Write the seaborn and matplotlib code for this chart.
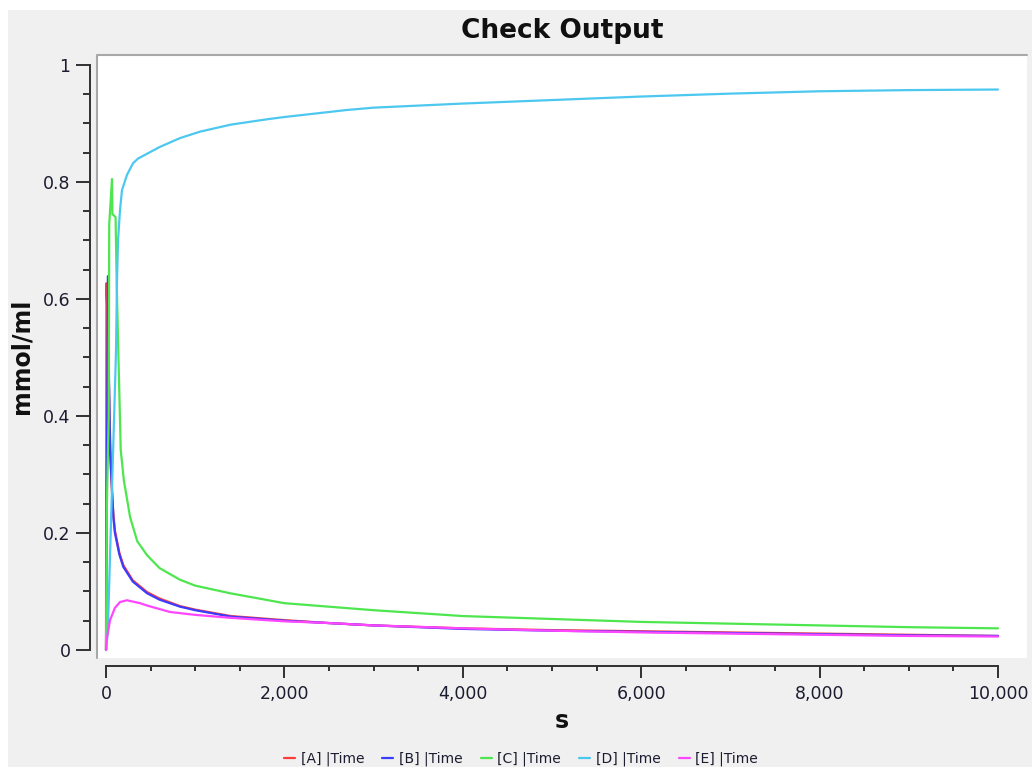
import matplotlib
matplotlib.use("Agg")
import matplotlib.pyplot as plt
from matplotlib.lines import Line2D
from matplotlib.patches import Rectangle
from matplotlib.ticker import MultipleLocator, FuncFormatter
import numpy as np
import pandas as pd
import seaborn as sns

# Species concentrations (mmol/ml) over simulated time (s)
species = ["[A] |Time", "[B] |Time", "[C] |Time", "[D] |Time", "[E] |Time"]
colors = ["#ff3c3c", "#3c3cff", "#4ee64e", "#4cc8f0", "#ff46ff"]

a_time = [0, 5, 20, 40, 55, 70, 85, 100, 150, 194, 300, 460, 600, 830, 1000, 1400,
          2000, 2500, 3000, 4000, 5000, 6000, 7000, 8000, 9000, 10000]
a_conc = [0.0, 0.627, 0.55, 0.40, 0.31, 0.26, 0.228, 0.204, 0.166, 0.145, 0.119, 0.099,
          0.088, 0.075, 0.069, 0.058, 0.051, 0.046, 0.042, 0.037, 0.034, 0.032, 0.030,
          0.028, 0.026, 0.024]

b_time = [0, 12, 22, 30, 45, 64, 82, 100, 150, 194, 300, 460, 600, 830, 1000, 1400,
          2000, 2500, 3000, 4000, 5000, 6000, 7000, 8000, 9000, 10000]
b_conc = [0.0, 0.35, 0.639, 0.50, 0.342, 0.285, 0.228, 0.20, 0.163, 0.142, 0.117, 0.097,
          0.086, 0.074, 0.068, 0.057, 0.050, 0.046, 0.042, 0.036, 0.033, 0.031, 0.029,
          0.027, 0.025, 0.024]

c_time = [0, 10, 30, 36, 67, 72, 107, 120, 138, 165, 200, 270, 350, 460, 600, 830, 1000,
          1390, 2000, 2500, 3000, 4000, 5000, 6000, 7000, 8000, 9000, 10000]
c_conc = [0.0, 0.25, 0.40, 0.727, 0.805, 0.745, 0.74, 0.627, 0.51, 0.342, 0.29, 0.227,
          0.186, 0.162, 0.14, 0.12, 0.11, 0.097, 0.080, 0.074, 0.068, 0.058, 0.053, 0.048,
          0.045, 0.042, 0.039, 0.037]

d_time = [0, 20, 80, 112, 123, 135, 157, 179, 235, 303, 359, 605, 830, 1054, 1400, 1800,
          2000, 2700, 3000, 4000, 5000, 6000, 7000, 8000, 9000, 10000]
d_conc = [0.0, 0.03, 0.342, 0.51, 0.63, 0.70, 0.752, 0.786, 0.812, 0.832, 0.840, 0.860,
          0.875, 0.886, 0.898, 0.907, 0.911, 0.923, 0.927, 0.934, 0.940, 0.946, 0.951,
          0.955, 0.957, 0.958]

e_time = [0, 10, 45, 100, 157, 235, 381, 460, 600, 717, 1000, 1390, 2000, 2510, 3000,
          4000, 5000, 6000, 7000, 8000, 9000, 10000]
e_conc = [0.0, 0.02, 0.051, 0.072, 0.082, 0.085, 0.080, 0.076, 0.070, 0.065, 0.060, 0.055,
          0.049, 0.046, 0.042, 0.037, 0.033, 0.030, 0.028, 0.026, 0.024, 0.023]

series = [(a_time, a_conc), (b_time, b_conc), (c_time, c_conc),
          (d_time, d_conc), (e_time, e_conc)]
frames = []
for name, (t, v) in zip(species, series):
    frames.append(pd.DataFrame({"t": t, "conc": v, "species": name}))
df = pd.concat(frames, ignore_index=True)

sns.set_style("white")
plt.rcParams["font.family"] = ["DejaVu Sans"]

W, H = 1032, 767
fig = plt.figure(figsize=(W / 100, H / 100), dpi=100, facecolor="#f0f0f0")
# white strips along the top and left edges of the window
fig.patches.append(Rectangle((0, 1 - 10 / H), 1, 10 / H, transform=fig.transFigure,
                             facecolor="white", edgecolor="none", zorder=-5))
fig.patches.append(Rectangle((0, 0), 8 / W, 1, transform=fig.transFigure,
                             facecolor="white", edgecolor="none", zorder=-5))

left, right, top, bottom = 97, 1027, 55, 658
ax = fig.add_axes([left / W, 1 - bottom / H, (right - left) / W, (bottom - top) / H])
ax.set_facecolor("white")

palette = dict(zip(species, colors))
sns.lineplot(data=df, x="t", y="conc", hue="species", hue_order=species,
             palette=palette, estimator=None, sort=False, linewidth=1.6,
             legend=False, ax=ax)

ax.set_xlim(-101, 10325)
ax.set_ylim(-0.0137, 1.017)

# axis lines offset from the plotting area, spanning only the data range
for s in ["top", "right"]:
    ax.spines[s].set_visible(False)
ax.spines["left"].set_position(("outward", 5))
ax.spines["bottom"].set_position(("outward", 6))
ax.spines["left"].set_bounds(0, 1)
ax.spines["bottom"].set_bounds(0, 10000)
for s in ["left", "bottom"]:
    ax.spines[s].set_color("#303030")
    ax.spines[s].set_linewidth(1.4)

# sunken border on the plotting area
ax.add_line(Line2D([0, 0, 1], [0, 1, 1], transform=ax.transAxes, color="#a8a8a8",
                   lw=1.5, clip_on=False, zorder=5))

ax.xaxis.set_major_locator(MultipleLocator(2000))
ax.xaxis.set_minor_locator(MultipleLocator(500))
ax.yaxis.set_major_locator(MultipleLocator(0.2))
ax.yaxis.set_minor_locator(MultipleLocator(0.05))
ax.xaxis.set_major_formatter(FuncFormatter(lambda v, p: f"{int(round(v)):,}"))
ax.yaxis.set_major_formatter(FuncFormatter(lambda v, p: f"{v:g}"))

ax.tick_params(axis="both", which="both", direction="out", color="#303030",
               width=1.4, labelcolor="#1c1c30", labelsize=12.5)
ax.tick_params(axis="y", which="major", length=10, pad=4)
ax.tick_params(axis="y", which="minor", length=5)
ax.tick_params(axis="x", which="major", length=8.5, pad=5)
ax.tick_params(axis="x", which="minor", length=3.8)
ax.tick_params(left=True, bottom=True, which="both")

ax.set_title("Check Output", fontsize=19, fontweight="bold", pad=12, color="#101010")
ax.set_xlabel("s", fontsize=17, fontweight="bold", color="#101010")
ax.set_ylabel("mmol/ml", fontsize=17, fontweight="bold", color="#101010")
ax.xaxis.set_label_coords(0.5, -0.085)
ax.yaxis.set_label_coords(-0.068, 0.5)

handles = [Line2D([], [], color=c, lw=1.6) for c in colors]
fig.legend(handles, species, loc="center left", bbox_to_anchor=(284 / W, 1 - 759 / H),
           ncol=5, frameon=False, fontsize=10, handlelength=0.8, handletextpad=0.4,
           columnspacing=1.3, borderpad=0, borderaxespad=0, labelcolor="#1c1c30")

fig.savefig("out.png", dpi=100, facecolor=fig.get_facecolor())
